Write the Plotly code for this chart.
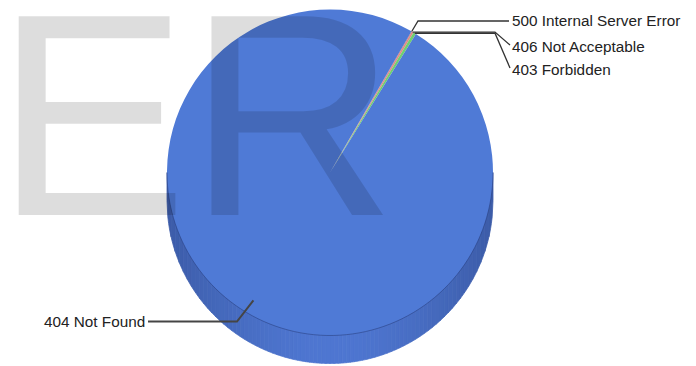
import numpy as np
import plotly.graph_objects as go

# ---- data ----
labels = ["500 Internal Server Error", "406 Not Acceptable", "403 Forbidden", "404 Not Found"]
values = [5, 18, 27, 9950]
colors = ["#a84848", "#e08a8a", "#6fcf6f", "#4f7ad6"]
watermark = "ER"

# ---- layout constants (pixels) ----
W, H = 696, 366
CX, CY, R = 330.0, 172.5, 163.0
DEPTH = 28.0
ROT = 30.0

def px(x):
    return x / W

def py(y):
    return 1 - y / H

fig = go.Figure()

# invisible helper trace to create pixel-space axes
fig.add_trace(go.Scatter(x=[0, W], y=[0, H], mode="markers",
                         marker=dict(opacity=0), hoverinfo="skip", showlegend=False))

fig.add_trace(go.Pie(
    labels=labels, values=values, sort=False, direction="clockwise", rotation=ROT,
    marker=dict(colors=colors, line=dict(width=0)),
    textinfo="none", hoverinfo="label+value+percent", showlegend=False,
    domain=dict(x=[px(CX - R), px(CX + R)], y=[py(CY + R), py(CY - R)]),
))

shapes = []
# 3D side band as gradient strips
N = 80
edge = np.array([60, 92, 168])
cent = np.array([79, 119, 210])
xs = np.linspace(CX - R, CX + R, N + 1)
for i in range(N):
    x0, x1 = xs[i], xs[i + 1]
    sub = np.linspace(x0, x1, 6)
    bottom = CY + DEPTH + np.sqrt(np.maximum(R**2 - (sub - CX) ** 2, 0))
    pts = [(x0, CY), (x1, CY)] + [(sx, by) for sx, by in zip(sub[::-1], bottom[::-1])]
    path = "M " + " L ".join(f"{a:.2f},{b:.2f}" for a, b in pts) + " Z"
    t = abs(((x0 + x1) / 2 - CX) / R)
    f = 1 - t ** 1.6
    c = edge + (cent - edge) * f
    col = f"rgb({int(c[0])},{int(c[1])},{int(c[2])})"
    shapes.append(dict(type="path", path=path, xref="x", yref="y", layer="below",
                       fillcolor=col, line=dict(color=col, width=0.8)))

# rim line on lower half of top face
ang = np.linspace(0, np.pi, 80)
rim = [(CX + R * np.cos(a), CY + R * np.sin(a)) for a in ang]
shapes.append(dict(type="path", xref="x", yref="y", layer="above",
                   path="M " + " L ".join(f"{a:.2f},{b:.2f}" for a, b in rim),
                   line=dict(color="rgba(40,62,125,0.55)", width=1)))

# leader lines computed from slice mid-angles
tot = sum(values)
mids = []
acc = 0
for v in values:
    mids.append(np.deg2rad(ROT + 360 * (acc + v / 2) / tot))
    acc += v

def rimpt(a, k=1.0):
    return CX + k * R * np.sin(a), CY - k * R * np.cos(a)

lc = "#333333"
p500 = rimpt(mids[0])
p406 = rimpt(mids[1])
p403 = rimpt(mids[2])
p404 = rimpt(mids[3], 0.915)
legs = [
    ([p500, (418, 21), (509, 21)], 1.3, lc),
    ([p406, (495, p406[1]), (510, 45)], 1.3, lc),
    ([p403, (495, p403[1]), (510, 68)], 1.3, lc),
    ([p404, (237, 321.5), (148, 321.5)], 2, "#454545"),
]
for pts, w, c in legs:
    shapes.append(dict(type="path", xref="x", yref="y", layer="above",
                       path="M " + " L ".join(f"{a:.2f},{b:.2f}" for a, b in pts),
                       line=dict(color=c, width=w)))

lab_font = dict(family="Liberation Sans, Arial, sans-serif", size=15.3, color="#222222")
annotations = [
    dict(text=watermark, xref="paper", yref="paper", x=0, y=py(114), xshift=-7,
         xanchor="left", yanchor="middle", showarrow=False,
         font=dict(family="Liberation Sans, Arial, sans-serif", size=289, color="rgba(0,0,0,0.135)")),
    dict(text=labels[0], xref="paper", yref="paper", x=px(510), y=py(21), xanchor="left",
         yanchor="middle", showarrow=False, font=lab_font),
    dict(text=labels[1], xref="paper", yref="paper", x=px(510), y=py(46), xanchor="left",
         yanchor="middle", showarrow=False, font=lab_font),
    dict(text=labels[2], xref="paper", yref="paper", x=px(510), y=py(69), xanchor="left",
         yanchor="middle", showarrow=False, font=lab_font),
    dict(text=labels[3], xref="paper", yref="paper", x=px(147), y=py(321), xanchor="right",
         yanchor="middle", showarrow=False, font=lab_font),
]

fig.update_layout(
    width=W, height=H, margin=dict(l=0, r=0, t=0, b=0),
    paper_bgcolor="white", plot_bgcolor="white",
    xaxis=dict(range=[0, W], visible=False, fixedrange=True),
    yaxis=dict(range=[H, 0], visible=False, fixedrange=True),
    shapes=shapes, annotations=annotations, showlegend=False,
)

fig.write_html("out.html", config={"displayModeBar": False},
               post_script="document.body.style.margin='0px';")
